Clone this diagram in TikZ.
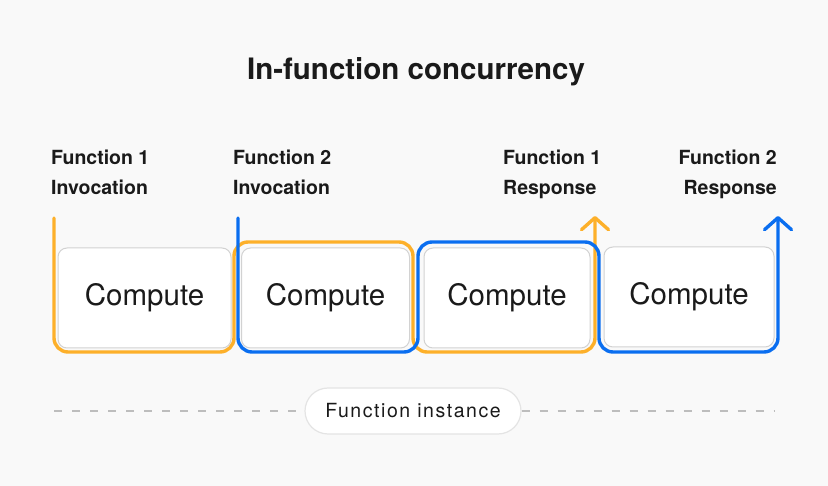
\documentclass[tikz,border=0pt]{standalone}
\usepackage{fontspec}
\setmainfont{TeX Gyre Heros}
\newfontfamily\pillfont{TeX Gyre Heros}[LetterSpace=8]
\usetikzlibrary{arrows.meta}
\definecolor{bgc}{HTML}{F9F9F9}
\definecolor{orangec}{HTML}{FDB02A}
\definecolor{bluec}{HTML}{0A6EF0}
\definecolor{boxborder}{HTML}{D2D2D2}
\definecolor{pillborder}{HTML}{E4E4E4}
\definecolor{dashc}{HTML}{BDBDBD}
\definecolor{textc}{HTML}{1A1A1A}
\tikzset{
  computebox/.style={draw=boxborder, line width=1pt, fill=white, rounded corners=9pt,
    minimum height=100pt, inner sep=0pt, text=textc,
    font=\fontsize{29.5}{34}\selectfont},
  flowline/.style={line width=3.4pt, rounded corners=14pt, line cap=round,
    -{Straight Barb[length=12pt,width=27pt,round]}},
  stepgroup/.style={anchor=north west, inner sep=0pt, align=left, text=textc,
    font=\bfseries\fontsize{19.5}{29.5}\selectfont},
  pillbox/.style={draw=pillborder, line width=1.2pt, fill=white, rounded corners=23pt,
    minimum width=216pt, minimum height=46pt, inner sep=0pt, text=textc,
    font=\pillfont\fontsize{19.5}{24}\selectfont},
  dashline/.style={draw=dashc, line width=2pt, dash pattern=on 8pt off 10pt}
}
\begin{document}
\begin{tikzpicture}[x=1pt,y=-1pt]
\fill[bgc] (0,0) rectangle (828,486);
\useasboundingbox (0,0) rectangle (828,486);

% title
\node[anchor=base, inner sep=0pt, text=textc, font=\bfseries\fontsize{29.5}{34}\selectfont] (title) at (416,80) {In-function concurrency};

% labels
\node[stepgroup] (l1) at (51,150) {Function 1\\Invocation};
\node[stepgroup] (l2) at (233,150) {Function 2\\Invocation};
\node[stepgroup] (l3) at (503,150) {Function 1\\Response};
\node[stepgroup, anchor=north east, align=right] (l4) at (777,150) {Function 2\\Response};

% compute boxes
\node[computebox, minimum width=173pt] (c1) at (144.5,298) {Compute};
\node[computebox, minimum width=168pt] (c2) at (325.5,298) {Compute};
\node[computebox, minimum width=166pt] (c3) at (507,298) {Compute};
\node[computebox, minimum width=170pt] (c4) at (689,297) {Compute};

% flow coordinates
\coordinate (oS) at (54,218);
\coordinate (oE) at (595,216);
\coordinate (bS) at (238,218);
\coordinate (bE) at (778,216);

\draw[flowline, orangec] (oS) -- (54,352) -- (234,352) -- (234,242) -- (413,242) -- (413,352) -- (595,352) -- (oE);
\draw[flowline, bluec] (bS) -- (238,352) -- (418,352) -- (418,242) -- (599,242) -- (599,352) -- (778,352) -- (bE);

% instance
\node[pillbox] (pill) at (413,411) {Function instance};
\coordinate (dl) at (54,411);
\coordinate (dr) at (774,411);
\draw[dashline] (dl) -- (pill.west);
\draw[dashline] (pill.east) -- (dr);
\end{tikzpicture}
\end{document}
